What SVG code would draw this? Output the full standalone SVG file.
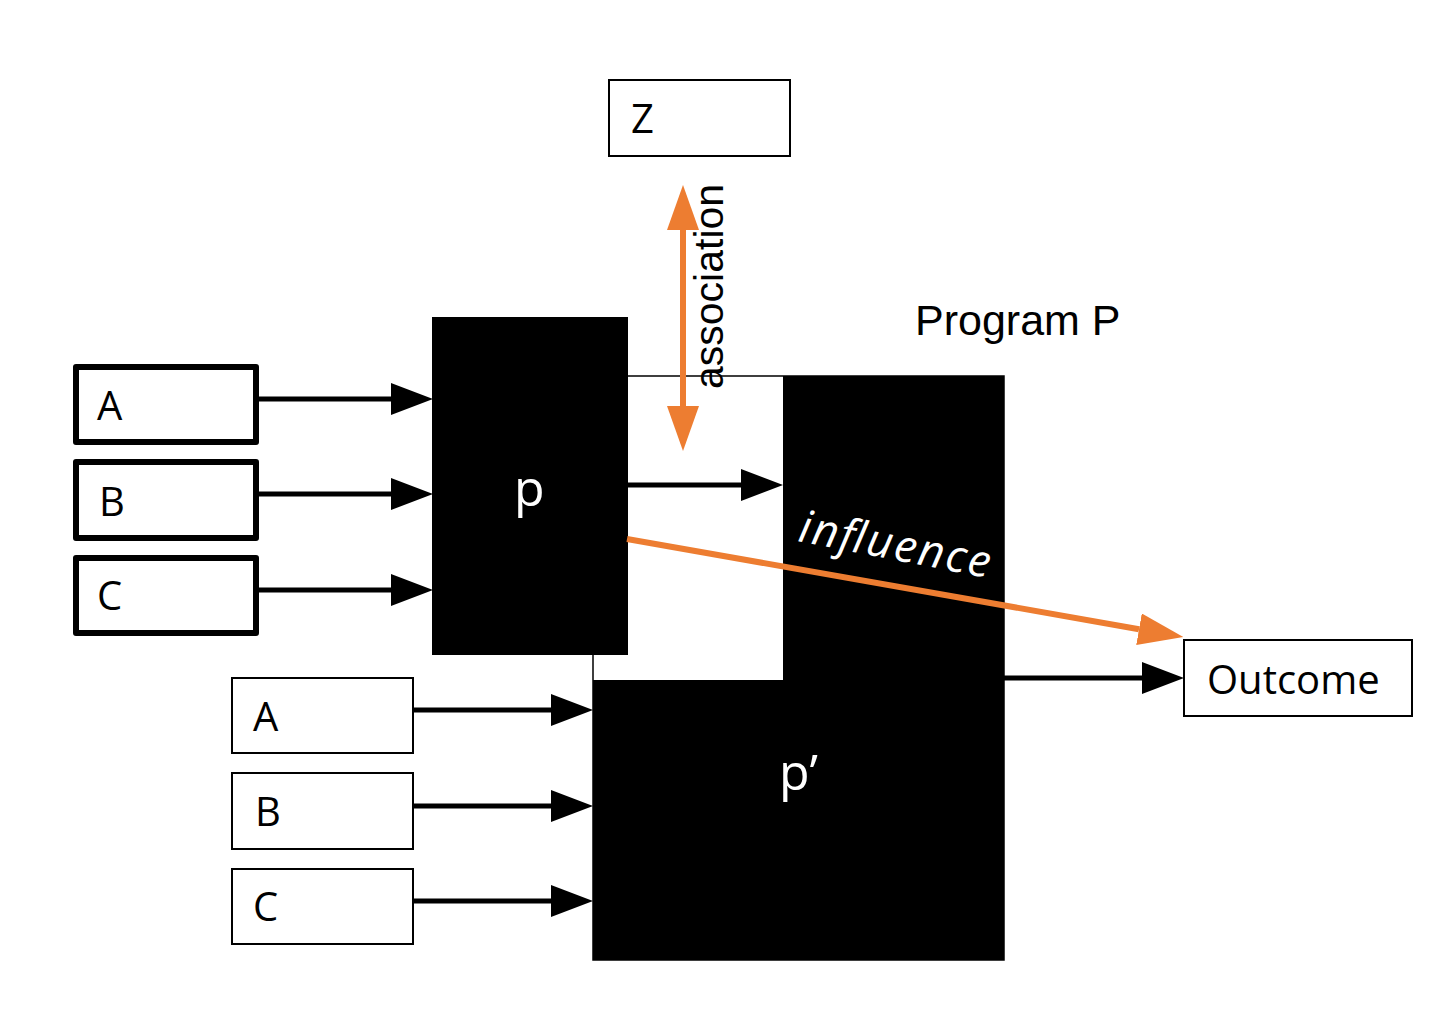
<svg xmlns="http://www.w3.org/2000/svg" width="1454" height="1014" viewBox="0 0 1454 1014">
<style>
.box{fill:#fff;stroke:#000;stroke-width:2}
.tbox{fill:#fff;stroke:#000;stroke-width:6;stroke-linejoin:round}
.lbl{font-family:"Open Sans","Liberation Sans",sans-serif;font-size:40px;fill:#000}
.wl{font-family:"Open Sans","Liberation Sans",sans-serif;fill:#fff}
.conn{stroke:#000;stroke-width:5;fill:none}
.org{stroke:#ED7D31;stroke-width:6;fill:none}
.hv{font-family:"Liberation Sans",Arial,sans-serif;fill:#000}
</style>
<defs>
<marker id="ah" markerUnits="userSpaceOnUse" markerWidth="42" markerHeight="32" refX="0" refY="16" orient="auto" viewBox="0 0 42 32">
<path d="M0,0 L42,16 L0,32 z" fill="#000"/>
</marker>
<marker id="oh" markerUnits="userSpaceOnUse" markerWidth="45" markerHeight="32" refX="0" refY="16" orient="auto-start-reverse" viewBox="0 0 45 32">
<path d="M0,0 L45,16 L0,32 z" fill="#ED7D31"/>
</marker>
</defs>
<rect width="1454" height="1014" fill="#fff"/>

<g id="program-P">
<rect x="593" y="376" width="411" height="584" fill="#fff" stroke="#000" stroke-width="1.5"/>
<polygon points="783,376 1004,376 1004,960 593,960 593,680 783,680" fill="#000"/>
<text class="wl" x="779" y="790" font-size="50">p’</text>
<text class="hv" x="915" y="335" font-size="43">Program P</text>
</g>

<g id="p">
<rect x="432" y="317" width="196" height="338" fill="#000"/>
<text class="wl" x="514" y="506" font-size="50">p</text>
</g>

<g id="Z">
<rect class="box" x="609" y="80" width="181" height="76"/>
<text class="lbl" x="631" y="133">Z</text>
</g>

<g id="A1"><rect class="tbox" x="76" y="367" width="180" height="75"/><text class="lbl" x="97" y="420">A</text></g>
<g id="B1"><rect class="tbox" x="76" y="462" width="180" height="76"/><text class="lbl" x="99" y="516">B</text></g>
<g id="C1"><rect class="tbox" x="76" y="558" width="180" height="75"/><text class="lbl" x="97" y="610">C</text></g>

<g id="A2"><rect class="box" x="232" y="678" width="181" height="75"/><text class="lbl" x="253" y="731">A</text></g>
<g id="B2"><rect class="box" x="232" y="773" width="181" height="76"/><text class="lbl" x="255" y="826">B</text></g>
<g id="C2"><rect class="box" x="232" y="869" width="181" height="75"/><text class="lbl" x="253" y="921">C</text></g>

<g id="Outcome">
<rect class="box" x="1184" y="640" width="228" height="76"/>
<text class="lbl" x="1207" y="694">Outcome</text>
</g>

<g id="connectors">
<line class="conn" x1="259" y1="399" x2="391" y2="399" marker-end="url(#ah)"/>
<line class="conn" x1="259" y1="494" x2="391" y2="494" marker-end="url(#ah)"/>
<line class="conn" x1="259" y1="590" x2="391" y2="590" marker-end="url(#ah)"/>
<line class="conn" x1="413" y1="710" x2="551" y2="710" marker-end="url(#ah)"/>
<line class="conn" x1="413" y1="806" x2="551" y2="806" marker-end="url(#ah)"/>
<line class="conn" x1="413" y1="901" x2="551" y2="901" marker-end="url(#ah)"/>
<line class="conn" x1="627" y1="485" x2="741" y2="485" marker-end="url(#ah)"/>
<line class="conn" x1="1004" y1="678" x2="1142" y2="678" marker-end="url(#ah)"/>
<line class="org" x1="683" y1="230" x2="683" y2="406" marker-start="url(#oh)" marker-end="url(#oh)"/>
<line class="org" x1="627" y1="539" x2="1139" y2="629.2" marker-end="url(#oh)"/>
<text class="hv" x="723" y="389" font-size="41" transform="rotate(-90 723 389)">association</text>
<text class="wl" x="797" y="541" font-size="45" font-style="italic" textLength="194" lengthAdjust="spacing" transform="rotate(11 797 541)">influence</text>
</g>
</svg>
